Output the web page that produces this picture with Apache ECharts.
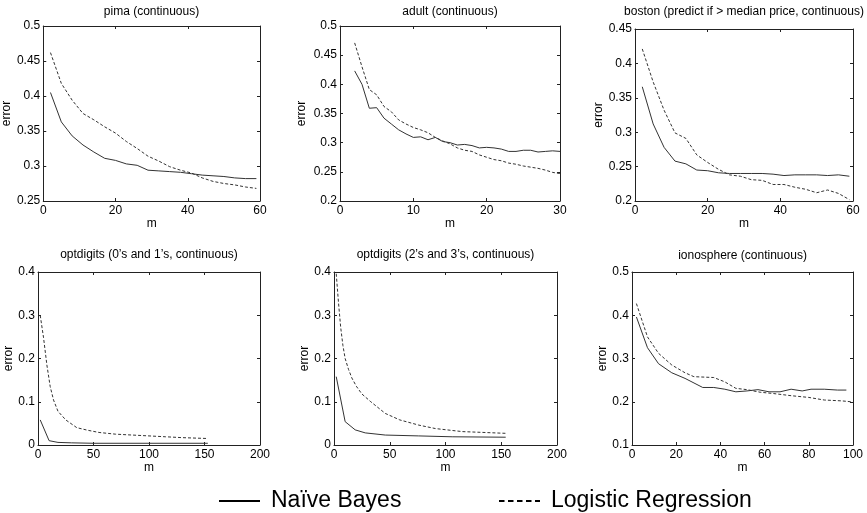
<!DOCTYPE html>
<html><head><meta charset="utf-8">
<script src="https://cdn.jsdelivr.net/npm/echarts/dist/echarts.min.js"></script>
<style>html,body{margin:0;padding:0;background:#fff}#c{width:867px;height:513px}</style>
</head><body><div id="c"></div>
<script>
// ---- data ----
const pimaM = [2,5,8,11,14,17,20,23,26,29,32,35,38,41,44,47,50,53,56,59];
const pimaNB = [0.405,0.363,0.343,0.330,0.320,0.311,0.308,0.303,0.301,0.294,0.293,0.292,0.291,0.289,0.287,0.286,0.285,0.283,0.282,0.282];
const pimaLR = [0.462,0.418,0.394,0.375,0.366,0.356,0.347,0.335,0.325,0.314,0.307,0.299,0.294,0.290,0.283,0.278,0.275,0.273,0.270,0.268];

const adultM = [2,3,4,5,6,7,8,9,10,11,12,13,14,15,16,17,18,19,20,21,22,23,24,25,26,27,28,29,30];
const adultNB = [0.423,0.400,0.359,0.360,0.342,0.332,0.322,0.315,0.309,0.310,0.305,0.309,0.302,0.300,0.296,0.297,0.295,0.291,0.292,0.291,0.289,0.285,0.285,0.287,0.287,0.284,0.285,0.286,0.285];
const adultLR = [0.471,0.430,0.391,0.382,0.362,0.353,0.339,0.332,0.326,0.322,0.317,0.309,0.303,0.298,0.291,0.287,0.285,0.279,0.275,0.271,0.269,0.265,0.263,0.260,0.258,0.256,0.253,0.249,0.247];

const bostonM = [2,5,8,11,14,17,20,23,26,29,32,35,38,41,44,47,50,53,56,59];
const bostonNB = [0.366,0.312,0.278,0.258,0.254,0.245,0.244,0.241,0.240,0.240,0.240,0.240,0.239,0.237,0.238,0.238,0.238,0.237,0.238,0.236];
const bostonLR = [0.421,0.373,0.332,0.299,0.291,0.267,0.256,0.246,0.238,0.236,0.231,0.230,0.224,0.224,0.220,0.217,0.212,0.216,0.211,0.202];

const opt01NBm = [2,10,18,30,50,100,153];
const opt01NB = [0.058,0.010,0.006,0.005,0.004,0.004,0.004];
const opt01LRm = [2,5,8,11,14,18,25,35,45,55,70,85,100,115,130,153];
const opt01LR = [0.300,0.248,0.185,0.135,0.104,0.078,0.058,0.040,0.034,0.029,0.025,0.023,0.021,0.019,0.017,0.015];

const opt23NBm = [2,10,19,28,46,76,106,154];
const opt23NB = [0.158,0.054,0.035,0.028,0.023,0.021,0.019,0.018];
const opt23LRm = [2,4,6,8,10,13,16,20,25,33,46,59,76,91,115,154];
const opt23LR = [0.396,0.330,0.272,0.230,0.200,0.175,0.155,0.136,0.118,0.100,0.073,0.058,0.046,0.038,0.031,0.027];

const ionoNBm = [2,7,12,18,24,32,37,42,47,52,57,62,67,72,77,81,87,93,97];
const ionoNB = [0.396,0.325,0.288,0.267,0.254,0.233,0.233,0.229,0.223,0.225,0.228,0.223,0.223,0.229,0.225,0.229,0.229,0.227,0.227];
const ionoLRm = [2,7,12,18,24,28,37,42,47,52,58,64,72,80,87,95,99];
const ionoLR = [0.427,0.350,0.312,0.285,0.267,0.258,0.256,0.246,0.231,0.228,0.222,0.219,0.214,0.210,0.204,0.202,0.200];

const titles = ['pima (continuous)','adult (continuous)','boston (predict if > median price, continuous)',
  "optdigits (0\u2019s and 1\u2019s, continuous)","optdigits (2\u2019s and 3\u2019s, continuous)",'ionosphere (continuous)'];
const seriesNames = ['Na\u00efve Bayes','Logistic Regression'];
const xName = 'm', yName = 'error';

// ---- layout ----
const FONT = '"Liberation Sans", Arial, Helvetica, sans-serif';
const panels = [
  {box:[43,26,260,201], x:[0,60,20], y:[0.25,0.5,0.05], nb:[pimaM,pimaNB], lr:[pimaM,pimaLR], ty:6, yGap:24, xGap:11},
  {box:[340,26,560,201], x:[0,30,10], y:[0.2,0.5,0.05], nb:[adultM,adultNB], lr:[adultM,adultLR], ty:6, yGap:32, xGap:11},
  {box:[635,29,853,201], x:[0,60,20], y:[0.2,0.45,0.05], nb:[bostonM,bostonNB], lr:[bostonM,bostonLR], ty:6, yGap:21, xGap:11},
  {box:[38,272,260,445], x:[0,200,50], y:[0,0.4,0.1], nb:[opt01NBm,opt01NB], lr:[opt01LRm,opt01LR], ty:249, yGap:18, xGap:13},
  {box:[334,272,557,445], x:[0,200,50], y:[0,0.4,0.1], nb:[opt23NBm,opt23NB], lr:[opt23LRm,opt23LR], ty:249, yGap:16, xGap:13},
  {box:[632,272,853,445], x:[0,100,20], y:[0.1,0.5,0.1], nb:[ionoNBm,ionoNB], lr:[ionoLRm,ionoLR], ty:250, yGap:18, xGap:13}
];

const grid=[], xAxis=[], yAxis=[], title=[], series=[];
const axColor = '#222';
panels.forEach((p,i)=>{
  grid.push({left:p.box[0], top:p.box[1], width:p.box[2]-p.box[0], height:p.box[3]-p.box[1]});
  const base = {type:'value', gridIndex:i, splitLine:{show:false},
    axisLine:{show:true,onZero:false,lineStyle:{color:axColor,width:1}},
    axisTick:{show:true,inside:true,length:3,lineStyle:{color:axColor,width:1}}};
  const lab = {color:'#000', fontSize:12, fontFamily:FONT};
  xAxis.push(Object.assign({}, base, {position:'bottom', min:p.x[0], max:p.x[1], interval:p.x[2],
    name:xName, nameLocation:'middle', nameGap:p.xGap, nameTextStyle:lab,
    axisLabel:Object.assign({margin:4, showMinLabel:true, showMaxLabel:true}, lab)}));
  xAxis.push(Object.assign({}, base, {position:'top', min:p.x[0], max:p.x[1], interval:p.x[2], axisLabel:{show:false}}));
  yAxis.push(Object.assign({}, base, {position:'left', min:p.y[0], max:p.y[1], interval:p.y[2],
    name:yName, nameLocation:'middle', nameGap:p.yGap, nameRotate:90, nameTextStyle:lab,
    axisLabel:Object.assign({margin:3, showMinLabel:true, showMaxLabel:true}, lab)}));
  yAxis.push(Object.assign({}, base, {position:'right', min:p.y[0], max:p.y[1], interval:p.y[2], axisLabel:{show:false}}));
  title.push({text:titles[i], left:(p.box[0]+p.box[2])/2, top:p.ty, textAlign:'center', padding:0,
    textStyle:{fontSize:12, fontWeight:'normal', color:'#000', fontFamily:FONT}});
  series.push({type:'line', name:seriesNames[0], xAxisIndex:2*i, yAxisIndex:2*i, symbol:'none',
    data:p.nb[0].map((m,k)=>[m,p.nb[1][k]]), lineStyle:{color:'#333',width:1,type:'solid'}});
  series.push({type:'line', name:seriesNames[1], xAxisIndex:2*i, yAxisIndex:2*i, symbol:'none',
    data:p.lr[0].map((m,k)=>[m,p.lr[1][k]]), lineStyle:{color:'#333',width:1,type:[3,2]}});
});

const legText = {fontSize:23, color:'#000', fontFamily:FONT, padding:[0,0,0,6], lineHeight:26};
const option = {
  animation:false,
  backgroundColor:'#fff',
  title, grid, xAxis, yAxis, series,
  legend:[
    {data:[seriesNames[0]], left:218, top:488, padding:0, itemWidth:41, itemHeight:14, selectedMode:false,
      textStyle:legText, lineStyle:{width:2,color:'#000',type:'solid'}, itemStyle:{opacity:0}},
    {data:[seriesNames[1]], left:498, top:488, padding:0, itemWidth:41, itemHeight:14, selectedMode:false,
      textStyle:legText, lineStyle:{width:2,color:'#000',type:[5.5,3.5]}, itemStyle:{opacity:0}}
  ]
};
const chart = echarts.init(document.getElementById('c'), null, {renderer:'canvas'});
chart.setOption(option);
</script></body></html>
